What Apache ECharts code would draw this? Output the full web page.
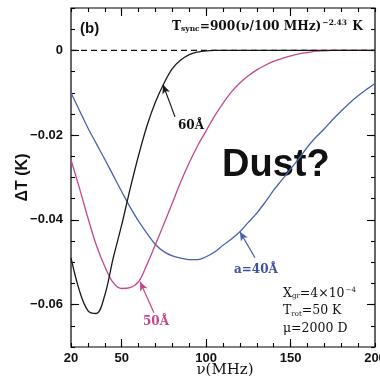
<!DOCTYPE html>
<html><head><meta charset="utf-8">
<script src="https://cdn.jsdelivr.net/npm/echarts@6/dist/echarts.min.js"></script>
<style>html,body{margin:0;padding:0;background:#fff}#c{width:380px;height:378px}</style>
</head><body><div id="c"></div>
<script>
// frequency grid (MHz)
const freq = [20,25,30,35,40,45,50,55,60,65,70,75,80,85,90,95,100,105,110,115,120,125,130,135,140,145,150,155,160,165,170,175,180,185,190,195,200];
// ΔT (K) for a = 60 Å
const dT60 = [-0.049,-0.0567,-0.0614,-0.0621,-0.0578,-0.049,-0.0412,-0.0327,-0.0248,-0.0178,-0.0122,-0.0078,-0.0043,-0.0023,-0.001,-0.0004,-0.0001,0,0,0,0,0,0,0,0,0,0,0,0,0,0,0,0,0,0,0,0];
// ΔT (K) for a = 50 Å
const dT50 = [-0.0258,-0.0325,-0.0395,-0.046,-0.051,-0.0548,-0.0562,-0.056,-0.0546,-0.0505,-0.0458,-0.041,-0.036,-0.031,-0.0265,-0.0225,-0.019,-0.0155,-0.0125,-0.0098,-0.0077,-0.006,-0.0046,-0.0035,-0.0026,-0.0019,-0.0013,-0.0008,-0.0005,-0.0002,-0.0001,0,0,0,0,0,0];
// ΔT (K) for a = 40 Å
const dT40 = [-0.010,-0.0142,-0.0183,-0.022,-0.0257,-0.0295,-0.0333,-0.037,-0.0403,-0.0432,-0.0458,-0.0475,-0.0485,-0.049,-0.0494,-0.0494,-0.0487,-0.0476,-0.046,-0.0445,-0.0428,-0.0406,-0.0384,-0.0358,-0.033,-0.0305,-0.028,-0.0255,-0.0228,-0.0205,-0.0185,-0.0163,-0.0143,-0.0124,-0.0107,-0.0092,-0.0078];
// tick values
const xMajorTicks = [20,50,100,150,200];
const xMinorTicks = [20,30,40,50,60,70,80,90,100,110,120,130,140,150,160,170,180,190,200];
const yMajorTicks = [-0.06,-0.04,-0.02,0];
const yMinorTicks = [-0.07,-0.065,-0.06,-0.055,-0.05,-0.045,-0.04,-0.035,-0.03,-0.025,-0.02,-0.015,-0.01,-0.005,0,0.005,0.01];
// arrows [from, to] in data coords
const arrow60 = [[81.6,-0.0157],[74.5,-0.0081]];
const arrow50 = [[69.1,-0.0619],[60.9,-0.0546]];
const arrow40 = [[128.9,-0.0489],[120,-0.0428]];

const cBlack = '#1a1a1a', cPink = '#c4468f', cBlue = '#4a62aa';
const pairs = (ys) => freq.map((f,i)=>[f, ys[i]]);

const chart = echarts.init(document.getElementById('c'), null, {renderer:'canvas'});
const labFont = {fontFamily:'Liberation Sans', fontWeight:'bold', fontSize:13, color:'#111'};
function xAx(pos, ticks, len, labels, extra){
  return Object.assign({type:'value', position:pos, min:20, max:200,
    axisLine:{show:false, onZero:false}, splitLine:{show:false},
    axisTick:{show:true, inside:true, length:len, customValues:ticks, lineStyle:{color:'#000', width:1.1}},
    axisLabel: labels ? Object.assign({show:true, customValues:xMajorTicks, margin:5}, labFont) : {show:false}
  }, extra||{});
}
function yAx(pos, ticks, len, labels, extra){
  return Object.assign({type:'value', position:pos, min:-0.07, max:0.01,
    axisLine:{show:false, onZero:false}, splitLine:{show:false},
    axisTick:{show:true, inside:true, length:len, customValues:ticks, lineStyle:{color:'#000', width:1.1}},
    axisLabel: labels ? Object.assign({show:true, customValues:yMajorTicks, margin:8,
      formatter: v => Math.abs(v) < 1e-9 ? '0' : '\u2212' + Math.abs(v).toFixed(2)}, labFont) : {show:false}
  }, extra||{});
}
function arrowLine(pts, color){
  return {silent:true, symbol:['none','arrow'], symbolSize:[6,9], label:{show:false},
    lineStyle:{color:color, width:1.2, type:'solid'},
    data:[[{coord:pts[0]},{coord:pts[1]}]]};
}
const option = {
  animation:false,
  grid:{left:71, right:5, top:8, bottom:31, show:true, borderColor:'#000', borderWidth:1.2,
    containLabel:false, outerBoundsMode:'none'},
  xAxis:[
    xAx('bottom', xMinorTicks, 4, true, {name:'\u03bd(MHz)', nameLocation:'middle', nameGap:16, nameMoveOverlap:false,
      nameTextStyle:{fontFamily:'DejaVu Serif', fontSize:15, color:'#111', verticalAlign:'top', padding:[0,0,0,4]}}),
    xAx('bottom', [50,100,150], 8, false),
    xAx('top', xMinorTicks, 4, false),
    xAx('top', [50,100,150], 8, false)
  ],
  yAxis:[
    yAx('left', yMinorTicks, 4, true, {name:'\u0394T (K)', nameLocation:'middle', nameGap:40, nameRotate:90, nameMoveOverlap:false,
      nameTextStyle:{fontFamily:'Liberation Sans', fontWeight:'bold', fontSize:16, color:'#111'}}),
    yAx('left', yMajorTicks, 8, false),
    yAx('right', yMinorTicks, 4, false),
    yAx('right', yMajorTicks, 8, false)
  ],
  series:[
    {type:'line', name:'60', data:pairs(dT60), smooth:0.35, symbol:'none', xAxisIndex:0, yAxisIndex:0,
      lineStyle:{color:cBlack, width:1.3}, z:3,
      markLine: arrowLine(arrow60, cBlack)},
    {type:'line', name:'50', data:pairs(dT50), smooth:0.35, symbol:'none', xAxisIndex:0, yAxisIndex:0,
      lineStyle:{color:cPink, width:1.3}, z:2,
      markLine: arrowLine(arrow50, cPink)},
    {type:'line', name:'40', data:pairs(dT40), smooth:0.35, symbol:'none', xAxisIndex:0, yAxisIndex:0,
      lineStyle:{color:cBlue, width:1.3}, z:2,
      markLine: arrowLine(arrow40, cBlue)},
    {type:'line', name:'zero', data:[[20,0],[200,0]], symbol:'none', xAxisIndex:0, yAxisIndex:0,
      lineStyle:{color:'#111', width:1.2, type:[6,4]}, z:4}
  ],
  graphic:[
    {type:'text', left:80, top:21, style:{text:'(b)', fill:'#111', font:'bold 15px "Liberation Sans"'}},
    {type:'text', left:172, top:19, style:{
      text:'{n|T}{s|sync}{n|=900(\u03bd/100 MHz)}{p|\u22122.43}{n| K}',
      rich:{
        n:{fontFamily:'DejaVu Serif', fontWeight:'bold', fontSize:12.2, fill:'#111', lineHeight:18, verticalAlign:'middle'},
        s:{fontFamily:'DejaVu Serif', fontWeight:'bold', fontSize:7.5, fill:'#111', lineHeight:18, padding:[6,0,0,0], verticalAlign:'middle'},
        p:{fontFamily:'DejaVu Serif', fontWeight:'bold', fontSize:7.5, fill:'#111', lineHeight:18, padding:[0,1,7,1], verticalAlign:'middle'}
      }}},
    {type:'text', left:178, top:120, style:{text:'60\u00c5', fill:'#111', font:'bold 12px "DejaVu Serif"'}},
    {type:'text', left:143, top:316, style:{text:'50\u00c5', fill:cPink, font:'bold 12px "DejaVu Serif"'}},
    {type:'text', left:234, top:264, style:{text:'a=40\u00c5', fill:'#3f52a0', font:'bold 12px "DejaVu Serif"'}},
    {type:'text', left:222, top:147, style:{text:'Dust?', fill:'#111', font:'bold 38px "Liberation Sans"'}},
    {type:'text', left:283, top:287, style:{
      text:'{n|X}{s|gr}{n|=4\u00d710}{p|\u22124}\n{n|T}{s|rot}{n|=50 K}\n{n|\u03bc=2000 D}',
      rich:{
        n:{fontFamily:'DejaVu Serif', fontSize:12.5, fill:'#111', lineHeight:17.5, verticalAlign:'middle'},
        s:{fontFamily:'DejaVu Serif', fontSize:7, fill:'#111', lineHeight:17.5, padding:[6,0,0,0], verticalAlign:'middle'},
        p:{fontFamily:'DejaVu Serif', fontSize:7, fill:'#111', lineHeight:17.5, padding:[0,0,6,1], verticalAlign:'middle'}
      }}}
  ]
};
chart.setOption(option);
</script></body></html>
